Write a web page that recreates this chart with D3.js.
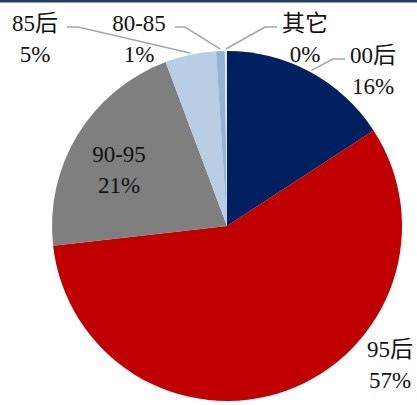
<!DOCTYPE html>
<html>
<head>
<meta charset="utf-8">
<script src="https://cdn.jsdelivr.net/npm/d3@7"></script>
<style>
  html, body { margin: 0; padding: 0; background: #fff; }
  svg { display: block; }
  text { font-family: "Liberation Serif", "Times New Roman", "Noto Sans CJK SC", serif; fill: #111; }
</style>
</head>
<body>
<svg id="chart" width="417" height="405"></svg>
<script>
// Age-group shares (percent), clockwise from 12 o'clock
const categories = ["00后", "95后", "90-95", "85后", "80-85", "其它"];
const shares = [15.8, 57.4, 21.1, 4.7, 0.8, 0.2];
const colors = ["#002060", "#C00000", "#7F7F7F", "#B9CDE5", "#95B3D7", "#DCE6F2"];

// Label layout: text centre, baseline of first line, and optional leader elbow
const labelLayout = [
  { x: 373, y: 63, leader: [[345, 59], [333, 59]] },
  { x: 390, y: 357 },
  { x: 119, y: 162 },
  { x: 35,  y: 31, leader: [[67, 27], [78, 27]] },
  { x: 139, y: 31, leader: [[175, 27], [185, 27]] },
  { x: 305, y: 31, leader: [[277, 27], [265, 27]] }
];

const width = 417, height = 405;
const cx = 227, cy = 226, r = 175;
const svg = d3.select("#chart");

// thin dark rule along the top edge
svg.append("rect").attr("x", 0).attr("y", 0).attr("width", width).attr("height", 2.5).attr("fill", "#243f60");

const total = d3.sum(shares);
const data = categories.map((c, i) => ({ name: c, value: shares[i], color: colors[i], layout: labelLayout[i] }));

const pie = d3.pie().sort(null).value(d => d.value).startAngle(0).endAngle(2 * Math.PI);
const arcs = pie(data);
const arc = d3.arc().innerRadius(0).outerRadius(r);

const g = svg.append("g").attr("transform", `translate(${cx},${cy})`);
g.selectAll("path.slice").data(arcs).join("path")
  .attr("class", "slice")
  .attr("d", arc)
  .attr("fill", d => d.data.color);

// leader lines from label elbow to the slice rim
const fmt = d3.format(".0%");
arcs.forEach(a => {
  const L = a.data.layout;
  if (!L.leader) return;
  const mid = (a.startAngle + a.endAngle) / 2;
  const rr = r + 2;
  const end = [cx + rr * Math.sin(mid), cy - rr * Math.cos(mid)];
  const pts = L.leader.concat([end]);
  svg.append("path")
    .attr("d", d3.line()(pts))
    .attr("fill", "none")
    .attr("stroke", "#A6A6A6")
    .attr("stroke-width", 1.6);
});

// labels: category name over percentage
arcs.forEach(a => {
  const L = a.data.layout;
  const t = svg.append("text")
    .attr("text-anchor", "middle")
    .attr("font-size", 23);
  t.append("tspan").attr("x", L.x).attr("y", L.y).text(a.data.name);
  t.append("tspan").attr("x", L.x).attr("y", L.y + 31).text(fmt(a.data.value / total));
});
</script>
</body>
</html>
